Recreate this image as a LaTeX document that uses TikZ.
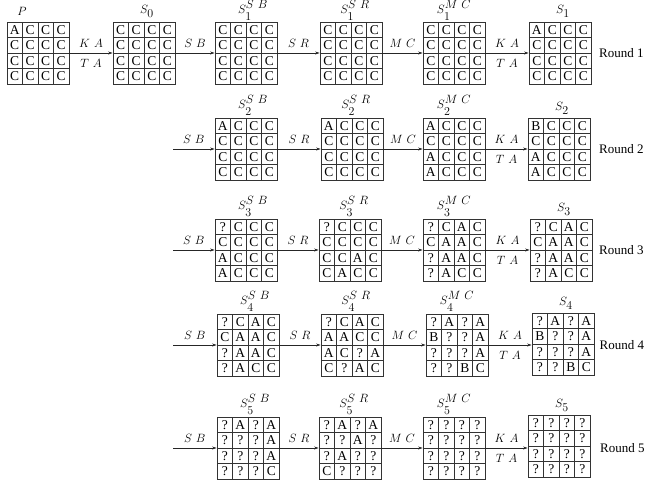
\documentclass[tikz,border=0pt]{standalone}
\usepackage{fontspec}
\setmainfont{Liberation Serif}
\usetikzlibrary{arrows.meta}
\newcommand\lsp{\mkern6mu}
\newcommand\stl[2]{$S^{\textstyle #1}_{\textstyle\rule{0pt}{10pt}#2}$}
\newcommand\stp[1]{$S_{\textstyle #1}$}
\tikzset{
  x=1pt,y=-1pt,
  cell/.style={draw=black!80, line width=0.55pt, minimum size=15.5pt, inner sep=0pt,
    font=\fontsize{13.5}{13.5}\selectfont, anchor=center},
  gridbox/.style={minimum size=62pt, inner sep=0pt, line width=0.8pt, draw=black},
  link/.style={-{Stealth[length=4.5pt,width=3pt]}, line width=0.6pt, draw=black!85},
  lab/.style={font=\fontsize{12.5}{14}\selectfont, inner sep=0pt},
  stlab/.style={anchor=base, font=\fontsize{12}{14}\selectfont, inner sep=0pt},
  roundlab/.style={anchor=west, font=\fontsize{13}{15}\selectfont, inner sep=0pt}
}
\newcommand\cellgrid[4]{%
  \node[gridbox] (#1) at (#2+31,#3+31) {};
  \foreach \v [count=\i from 0] in {#4} {%
    \pgfmathtruncatemacro\rr{div(\i,4)}%
    \pgfmathtruncatemacro\cc{mod(\i,4)}%
    \node[cell] (#1-\rr-\cc) at (#2+7.75+15.5*\cc,#3+7.75+15.5*\rr) {\v};
  }%
}
\begin{document}
\begin{tikzpicture}
\useasboundingbox (0,0) rectangle (645,483);

% ---------- Round 1 ----------
\cellgrid{p}{7}{22}{A,C,C,C,C,C,C,C,C,C,C,C,C,C,C,C}
\cellgrid{s0}{113}{22}{C,C,C,C,C,C,C,C,C,C,C,C,C,C,C,C}
\cellgrid{sb1}{215}{22}{C,C,C,C,C,C,C,C,C,C,C,C,C,C,C,C}
\cellgrid{sr1}{320}{22}{C,C,C,C,C,C,C,C,C,C,C,C,C,C,C,C}
\cellgrid{mc1}{423}{22}{C,C,C,C,C,C,C,C,C,C,C,C,C,C,C,C}
\cellgrid{s1}{529}{22}{A,C,C,C,C,C,C,C,C,C,C,C,C,C,C,C}

\node[stlab] (l-p) at ([xshift=-16pt,yshift=6pt]p.north) {$P$};
\node[stlab] (l-s0) at ([xshift=3pt,yshift=8pt]s0.north) {\stp{0}};
\node[stlab] (l-sb1) at ([xshift=7pt,yshift=8.5pt]sb1.north) {\stl{S\lsp B}{1}};
\node[stlab] (l-sr1) at ([xshift=4pt,yshift=8.5pt]sr1.north) {\stl{S\lsp R}{1}};
\node[stlab] (l-mc1) at ([xshift=0pt,yshift=8.5pt]mc1.north) {\stl{M\lsp C}{1}};
\node[stlab] (l-s1) at ([xshift=3pt,yshift=8pt]s1.north) {\stp{1}};

\draw[link] (p.east) -- (s0.west)
  node[midway,lab,yshift=10pt] (ka0) {$K\lsp A$}
  node[midway,lab,yshift=-10pt] (ta0) {$T\lsp A$};
\draw[link] (s0.east) -- (sb1.west) node[midway,lab,yshift=10pt] (sbl1) {$S\lsp B$};
\draw[link] (sb1.east) -- (sr1.west) node[midway,lab,yshift=10pt] (srl1) {$S\lsp R$};
\draw[link] (sr1.east) -- (mc1.west) node[midway,lab,yshift=10pt] (mcl1) {$M\lsp C$};
\draw[link] (mc1.east) -- (s1.west)
  node[midway,lab,yshift=10pt] (ka1) {$K\lsp A$}
  node[midway,lab,yshift=-10pt] (ta1) {$T\lsp A$};
\node[roundlab] (rd1) at (599,53) {Round 1};

% ---------- Round 2 ----------
\cellgrid{sb2}{215}{118}{A,C,C,C,C,C,C,C,C,C,C,C,C,C,C,C}
\cellgrid{sr2}{321}{118}{A,C,C,C,C,C,C,C,C,C,C,C,C,C,C,C}
\cellgrid{mc2}{423}{118}{A,C,C,C,C,C,C,C,A,C,C,C,A,C,C,C}
\cellgrid{s2}{528}{118}{B,C,C,C,C,C,C,C,A,C,C,C,A,C,C,C}

\node[stlab] (l-sb2) at ([xshift=7pt,yshift=9.5pt]sb2.north) {\stl{S\lsp B}{2}};
\node[stlab] (l-sr2) at ([xshift=4pt,yshift=9.5pt]sr2.north) {\stl{S\lsp R}{2}};
\node[stlab] (l-mc2) at ([xshift=0pt,yshift=9.5pt]mc2.north) {\stl{M\lsp C}{2}};
\node[stlab] (l-s2) at ([xshift=3pt,yshift=7pt]s2.north) {\stp{2}};

\coordinate (st2) at (173,149);
\draw[link] (st2) -- (sb2.west) node[midway,lab,yshift=10pt] (sbl2) {$S\lsp B$};
\draw[link] (sb2.east) -- (sr2.west) node[midway,lab,yshift=10pt] (srl2) {$S\lsp R$};
\draw[link] (sr2.east) -- (mc2.west) node[midway,lab,yshift=10pt] (mcl2) {$M\lsp C$};
\draw[link] (mc2.east) -- (s2.west)
  node[midway,lab,yshift=10pt] (ka2) {$K\lsp A$}
  node[midway,lab,yshift=-10pt] (ta2) {$T\lsp A$};
\node[roundlab] (rd2) at (599,149) {Round 2};

% ---------- Round 3 ----------
\cellgrid{sb3}{215}{219}{?,C,C,C,C,C,C,C,A,C,C,C,A,C,C,C}
\cellgrid{sr3}{319}{219}{?,C,C,C,C,C,C,C,C,C,A,C,C,A,C,C}
\cellgrid{mc3}{423}{219}{?,C,A,C,C,A,A,C,?,A,A,C,?,A,C,C}
\cellgrid{s3}{530}{219}{?,C,A,C,C,A,A,C,?,A,A,C,?,A,C,C}

\node[stlab] (l-sb3) at ([xshift=7pt,yshift=9.5pt]sb3.north) {\stl{S\lsp B}{3}};
\node[stlab] (l-sr3) at ([xshift=4pt,yshift=9.5pt]sr3.north) {\stl{S\lsp R}{3}};
\node[stlab] (l-mc3) at ([xshift=0pt,yshift=9.5pt]mc3.north) {\stl{M\lsp C}{3}};
\node[stlab] (l-s3) at ([xshift=3pt,yshift=7pt]s3.north) {\stp{3}};

\coordinate (st3) at (173,250);
\draw[link] (st3) -- (sb3.west) node[midway,lab,yshift=10pt] (sbl3) {$S\lsp B$};
\draw[link] (sb3.east) -- (sr3.west) node[midway,lab,yshift=10pt] (srl3) {$S\lsp R$};
\draw[link] (sr3.east) -- (mc3.west) node[midway,lab,yshift=10pt] (mcl3) {$M\lsp C$};
\draw[link] (mc3.east) -- (s3.west)
  node[midway,lab,yshift=10pt] (ka3) {$K\lsp A$}
  node[midway,lab,yshift=-10pt] (ta3) {$T\lsp A$};
\node[roundlab] (rd3) at (599,250) {Round 3};

% ---------- Round 4 ----------
\cellgrid{sb4}{217}{314}{?,C,A,C,C,A,A,C,?,A,A,C,?,A,C,C}
\cellgrid{sr4}{321}{314}{?,C,A,C,A,A,C,C,A,C,?,A,C,?,A,C}
\cellgrid{mc4}{426}{314}{?,A,?,A,B,?,?,A,?,?,?,A,?,?,B,C}
\cellgrid{s4}{532}{313}{?,A,?,A,B,?,?,A,?,?,?,A,?,?,B,C}

\node[stlab] (l-sb4) at ([xshift=7pt,yshift=9.5pt]sb4.north) {\stl{S\lsp B}{4}};
\node[stlab] (l-sr4) at ([xshift=4pt,yshift=9.5pt]sr4.north) {\stl{S\lsp R}{4}};
\node[stlab] (l-mc4) at ([xshift=0pt,yshift=9.5pt]mc4.north) {\stl{M\lsp C}{4}};
\node[stlab] (l-s4) at ([xshift=3pt,yshift=7pt]s4.north) {\stp{4}};

\coordinate (st4) at (173,345);
\draw[link] (st4) -- (sb4.west) node[midway,lab,yshift=10pt] (sbl4) {$S\lsp B$};
\draw[link] (sb4.east) -- (sr4.west) node[midway,lab,yshift=10pt] (srl4) {$S\lsp R$};
\draw[link] (sr4.east) -- (mc4.west) node[midway,lab,yshift=10pt] (mcl4) {$M\lsp C$};
\draw[link] (mc4.east) -- (s4.west |- mc4.east)
  node[midway,lab,yshift=10pt] (ka4) {$K\lsp A$}
  node[midway,lab,yshift=-10pt] (ta4) {$T\lsp A$};
\node[roundlab] (rd4) at (599.5,345) {Round 4};

% ---------- Round 5 ----------
\cellgrid{sb5}{217}{417}{?,A,?,A,?,?,?,A,?,?,?,A,?,?,?,C}
\cellgrid{sr5}{319}{417}{?,A,?,A,?,?,A,?,?,A,?,?,C,?,?,?}
\cellgrid{mc5}{423}{417}{?,?,?,?,?,?,?,?,?,?,?,?,?,?,?,?}
\cellgrid{s5}{528}{415}{?,?,?,?,?,?,?,?,?,?,?,?,?,?,?,?}

\node[stlab] (l-sb5) at ([xshift=7pt,yshift=9.5pt]sb5.north) {\stl{S\lsp B}{5}};
\node[stlab] (l-sr5) at ([xshift=4pt,yshift=9.5pt]sr5.north) {\stl{S\lsp R}{5}};
\node[stlab] (l-mc5) at ([xshift=0pt,yshift=9.5pt]mc5.north) {\stl{M\lsp C}{5}};
\node[stlab] (l-s5) at ([xshift=3pt,yshift=7pt]s5.north) {\stp{5}};

\coordinate (st5) at (173,448);
\draw[link] (st5) -- (sb5.west) node[midway,lab,yshift=10pt] (sbl5) {$S\lsp B$};
\draw[link] (sb5.east) -- (sr5.west) node[midway,lab,yshift=10pt] (srl5) {$S\lsp R$};
\draw[link] (sr5.east) -- (mc5.west) node[midway,lab,yshift=10pt] (mcl5) {$M\lsp C$};
\draw[link] (mc5.east) -- (s5.west |- mc5.east)
  node[midway,lab,yshift=10pt] (ka5) {$K\lsp A$}
  node[midway,lab,yshift=-10pt] (ta5) {$T\lsp A$};
\node[roundlab] (rd5) at (600,448) {Round 5};
\end{tikzpicture}
\end{document}
